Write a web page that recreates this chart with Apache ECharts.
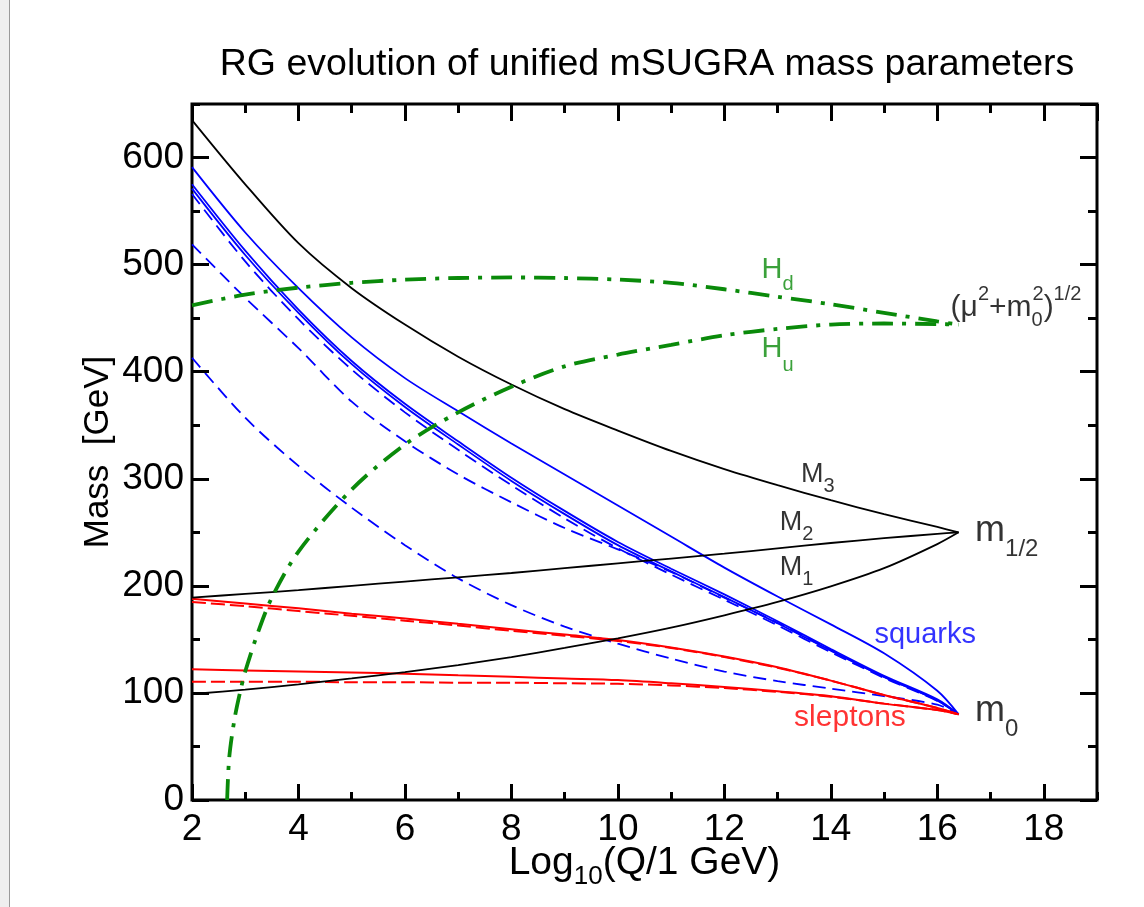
<!DOCTYPE html>
<html><head><meta charset="utf-8">
<script src="https://cdn.jsdelivr.net/npm/echarts@6/dist/echarts.min.js"></script>
<style>html,body{margin:0;padding:0;background:#fff}#c{width:1144px;height:907px}</style>
</head><body><div id="c"></div>
<script>
// ---- data: x = Log10(Q/1 GeV), y = Mass [GeV] ----
const xs   = [2, 3, 4, 5, 6, 7, 8, 9, 10, 11, 12, 13, 14, 15, 16, 16.4];
const M3   = [635, 575, 520, 478, 444, 414, 388, 365, 345, 326, 309, 294, 280, 267, 255, 250];
const M2   = [189, 192.5, 196, 200, 204, 208, 212, 216.5, 221, 225.5, 230, 235, 240, 244.5, 248.5, 250];
const M1   = [99, 103, 108, 113.5, 119.5, 126, 133.5, 142, 151, 161, 172.5, 185, 199.5, 216.5, 239, 250];
const sqS1 = [591, 530, 478, 432, 394, 363, 333, 304, 275, 246, 217, 190, 164, 137, 102, 80];
const sqS2 = [575, 513, 458, 410, 370, 335, 301, 270, 241, 216, 192, 167, 141, 116, 94, 80];
const sqS3 = [571, 509, 455, 407, 367, 332, 298, 267, 238, 213.5, 189.5, 165, 139.5, 115, 93, 80];
const sqD1 = [566, 503, 449, 402, 362, 327, 294, 263, 235, 210.5, 187, 163, 138, 114, 92.5, 80];
const sqD2 = [519, 469, 422, 372, 335, 304, 278, 254, 234, 213, 189, 165.5, 140, 115, 93, 80];
const sqD3 = [413, 357, 312, 273, 238, 207, 182, 162, 146, 132, 120, 111, 104, 97, 89, 80];
const slS1 = [188, 183.5, 179, 174, 169.5, 164.5, 159.5, 154.5, 149.5, 142.5, 134, 124, 111.5, 98, 86, 80];
const slD1 = [185, 181, 176.5, 172, 167.5, 163, 158, 153.5, 148.5, 142, 133.5, 123.5, 111.5, 98, 86, 80];
const slS2 = [122, 121, 120, 119, 118, 116.5, 115, 113.5, 112, 109, 105.5, 101.5, 97, 90, 84, 80];
const slD2 = [110.5, 110.5, 110.5, 110, 110, 109.5, 109.5, 109, 108.5, 107, 104.5, 101, 96.5, 90, 84, 80];
const Hd   = [462, 472, 478.5, 483, 486, 487.5, 488, 487.5, 486, 483, 477, 470, 463, 455, 447, 444];
const xsHu = [2.66, 2.7, 2.8, 2.9, 3, 3.25, 3.5, 4, 5, 6, 7, 8, 9, 10, 11, 12, 13, 14, 15, 16, 16.4];
const Hu   = [0, 40, 76, 100, 120, 158, 189, 232, 290, 332, 362, 386, 405, 416, 425, 434, 440, 444, 445, 444.5, 444];

// ---- annotation texts and anchor points (data coordinates) ----
const notes = [
  {key:'Hd', text:'{t|H}{sub|d}', at:[12.70,495]},
  {key:'Hu', text:'{t|H}{sub|u}', at:[12.70,421]},
  {key:'mu', text:'{t|(μ}{sup|2}{t|+m}{subz|0}{sup|2}{t|)}{sup|1/2}', at:[16.25,460]},
  {key:'M3', text:'{t|M}{sub|3}', at:[13.44,304]},
  {key:'M2', text:'{t|M}{sub|2}', at:[13.04,259]},
  {key:'M1', text:'{t|M}{sub|1}', at:[13.04,217]},
  {key:'mhalf', text:'{t|m}{sub|1/2}', at:[16.71,251]},
  {key:'m0', text:'{t|m}{sub|0}', at:[16.71,83]},
  {key:'sq', text:'{t|squarks}', at:[14.82,154]},
  {key:'sl', text:'{t|sleptons}', at:[13.31,77]}
];

const FONT = '"Liberation Sans", Arial, Helvetica, sans-serif';
const BLACK = '#000000', BLUE = '#0000ff', RED = '#ff0000', GREEN = '#0a8a0a';

function rich(color, F, f, d) {
  const L = 2 * d + f;
  return {
    t: {fontSize: F, lineHeight: L, color, fontFamily: FONT},
    sub: {fontSize: f, lineHeight: f, verticalAlign: 'bottom', color, fontFamily: FONT},
    subz: {fontSize: f, lineHeight: f, verticalAlign: 'bottom', color, fontFamily: FONT, width: 1},
    sup: {fontSize: f, lineHeight: f, verticalAlign: 'top', color, fontFamily: FONT}
  };
}
const noteStyle = {
  Hd: rich(GREEN, 29, 20, 15), Hu: rich(GREEN, 29, 20, 16),
  mu: rich(BLACK, 30, 20, 13),
  M3: rich(BLACK, 27, 20, 12), M2: rich(BLACK, 27, 20, 12), M1: rich(BLACK, 27, 20, 12),
  mhalf: rich(BLACK, 36, 24, 18), m0: rich(BLACK, 36, 24, 18),
  sq: rich(BLUE, 29, 20, 0), sl: rich(RED, 30, 20, 0)
};

function pairs(xv, yv) { return yv.map((y, i) => [xv[i], y]); }
function line(yv, color, width, type, xv) {
  return {
    type: 'line', data: pairs(xv || xs, yv), xAxisIndex: 0, yAxisIndex: 0,
    symbol: 'none', smooth: 0.3, clip: true,
    lineStyle: {color, width, type: type || 'solid', cap: 'butt'},
    silent: true, animation: false, z: 3
  };
}
const DASH_B = [13, 7], DASH_R = [14, 5], DASHDOT = [21, 9, 4, 9];

const series = [
  line(sqD3, BLUE, 1.8, DASH_B), line(sqD2, BLUE, 1.8, DASH_B), line(sqD1, BLUE, 1.8, DASH_B),
  line(sqS3, BLUE, 1.8), line(sqS2, BLUE, 1.8), line(sqS1, BLUE, 1.8),
  line(slD2, RED, 2, DASH_R), line(slD1, RED, 2, DASH_R), line(slS2, RED, 2), line(slS1, RED, 2),
  line(M3, BLACK, 1.8), line(M2, BLACK, 1.8), line(M1, BLACK, 1.8),
  line(Hd, GREEN, 3.8, DASHDOT), line(Hu, GREEN, 3.8, DASHDOT, xsHu),
  {
    type: 'scatter', xAxisIndex: 0, yAxisIndex: 0, symbolSize: 0, silent: true, animation: false, z: 5,
    data: notes.map(n => ({
      value: n.at,
      label: {show: true, position: 'right', distance: 0, formatter: n.text, rich: noteStyle[n.key]}
    }))
  }
];

const TICK = {color: '#000', width: 3};
function xAx(pos, interval, len, labels) {
  return {
    type: 'value', position: pos, min: 2, max: 19, interval,
    axisLine: {show: false, onZero: false},
    axisTick: {show: true, inside: true, length: len, lineStyle: TICK},
    axisLabel: labels ? {show: true, showMaxLabel: false, fontSize: 37, fontFamily: FONT, color: '#000', margin: 11} : {show: false},
    splitLine: {show: false}, z: 4
  };
}
function yAx(pos, interval, len, labels) {
  return {
    type: 'value', position: pos, min: 0, max: 650, interval,
    axisLine: {show: false, onZero: false},
    axisTick: {show: true, inside: true, length: len, lineStyle: TICK},
    axisLabel: labels ? {show: true, showMaxLabel: false, fontSize: 37, fontFamily: FONT, color: '#000', margin: 8} : {show: false},
    splitLine: {show: false}, z: 4
  };
}
const xBottom = xAx('bottom', 2, 16, true);
xBottom.name = '{t|Log}{sub|10}{t|(Q/1 GeV)}';
xBottom.nameLocation = 'middle';
xBottom.nameGap = 36;
xBottom.nameMoveOverlap = false;
xBottom.nameTextStyle = {rich: rich(BLACK, 39, 26, 14)};
const yLeft = yAx('left', 100, 17, true);
yLeft.name = 'Mass  [GeV]';
yLeft.nameLocation = 'middle';
yLeft.nameGap = 76;
yLeft.nameMoveOverlap = false;
yLeft.nameTextStyle = {fontSize: 35, fontFamily: FONT, color: '#000'};

const option = {
  backgroundColor: '#ffffff',
  animation: false,
  title: {
    text: 'RG evolution of unified mSUGRA mass parameters',
    left: 642, top: 41, textAlign: 'center',
    textStyle: {fontSize: 37.5, fontWeight: 'normal', fontFamily: FONT, color: '#000'}
  },
  grid: {left: 192, top: 104, width: 905, height: 696, containLabel: false, outerBoundsMode: 'none',
         show: true, borderColor: '#000', borderWidth: 3, backgroundColor: 'transparent'},
  xAxis: [xBottom, xAx('bottom', 1, 8, false), xAx('top', 2, 17, false), xAx('top', 1, 9, false)],
  yAxis: [yLeft, yAx('left', 50, 8, false), yAx('right', 100, 17, false), yAx('right', 50, 9, false)],
  graphic: [
    {type: 'rect', left: 0, top: 0, shape: {width: 9, height: 907}, style: {fill: '#efefef'}, silent: true},
    {type: 'rect', left: 9, top: 0, shape: {width: 1, height: 907}, style: {fill: '#9a9a9a'}, silent: true}
  ],
  series
};
const chart = echarts.init(document.getElementById('c'), null, {renderer: 'canvas'});
chart.setOption(option);
</script></body></html>
